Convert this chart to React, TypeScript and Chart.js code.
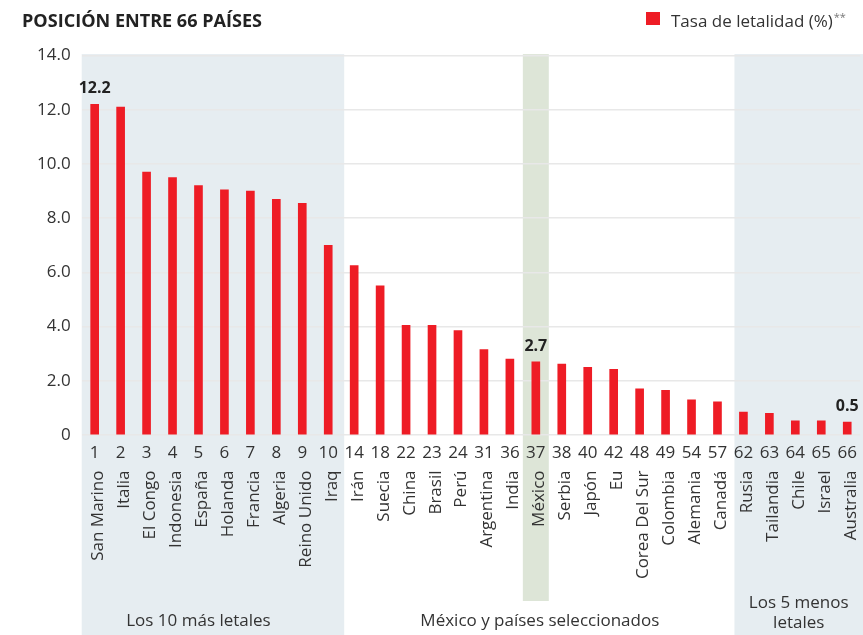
import React, { useEffect, useRef } from "react";
import { Chart, registerables } from "chart.js";

Chart.register(...registerables);

const title = "POSICIÓN ENTRE 66 PAÍSES";
const seriesName = "Tasa de letalidad (%)";
const seriesNote = "**";

const ranks = ["1", "2", "3", "4", "5", "6", "7", "8", "9", "10", "14", "18", "22", "23", "24", "31", "36", "37", "38", "40", "42", "48", "49", "54", "57", "62", "63", "64", "65", "66"];
const countries = ["San Marino", "Italia", "El Congo", "Indonesia", "España", "Holanda", "Francia", "Algeria", "Reino Unido", "Iraq", "Irán", "Suecia", "China", "Brasil", "Perú", "Argentina", "India", "México", "Serbia", "Japón", "Eu", "Corea Del Sur", "Colombia", "Alemania", "Canadá", "Rusia", "Tailandia", "Chile", "Israel", "Australia"];
const rates = [12.2, 12.1, 9.7, 9.5, 9.2, 9.05, 9.0, 8.7, 8.55, 7.0, 6.25, 5.5, 4.05, 4.05, 3.85, 3.15, 2.8, 2.7, 2.62, 2.5, 2.42, 1.7, 1.65, 1.3, 1.22, 0.85, 0.8, 0.52, 0.52, 0.48];
const labeledRanks = ["1", "37", "66"];

const yMin = 0;
const yMax = 14;
const yStep = 2;

const groupTexts = [["Los 10 más letales"], ["México y países seleccionados"], ["Los 5 menos", "letales"]];
const groupFirstRank = ["1", "37", "62"];
const groupLastRank = ["10", "37", "66"];

const RED = "#ee1c25";
const TEXT = "#333333";
const FONT = "'Open Sans', 'Noto Sans', sans-serif";

export default function App() {
  const ref = useRef<HTMLCanvasElement | null>(null);

  useEffect(() => {
    document.body.style.margin = "0";
    const canvas = ref.current;
    if (!canvas) return;

    const overlay = {
      id: "overlay",
      beforeDraw(chart: any) {
        const { ctx, chartArea } = chart;
        const x = chart.scales.x;
        const y = chart.scales.y;
        const W = chart.width;
        const H = chart.height;
        const step = x.getPixelForValue(1) - x.getPixelForValue(0);
        const top = y.getPixelForValue(yMax) - 1.5;
        ctx.save();
        const g1Last = ranks.indexOf(groupLastRank[0]);
        ctx.fillStyle = "#e6edf1";
        ctx.fillRect(chartArea.left, top, x.getPixelForValue(g1Last) + step / 2 + 3 - chartArea.left, H - top);
        const mx = ranks.indexOf(groupFirstRank[1]);
        ctx.fillStyle = "#dde5d7";
        ctx.fillRect(x.getPixelForValue(mx) - step / 2, top, step, 601 - top);
        const g3First = ranks.indexOf(groupFirstRank[2]);
        const l3 = x.getPixelForValue(g3First) - step / 2 + 4;
        ctx.fillStyle = "#e6edf1";
        ctx.fillRect(l3, top, W - l3, H - top);
        ctx.restore();
      },
      afterDraw(chart: any) {
        const { ctx } = chart;
        const x = chart.scales.x;
        const y = chart.scales.y;
        const W = chart.width;
        ctx.save();
        ctx.fillStyle = "#222";
        ctx.font = `bold 18.5px ${FONT}`;
        ctx.textAlign = "left";
        ctx.textBaseline = "alphabetic";
        ctx.fillText(title, 22, 27, 240);
        ctx.fillStyle = RED;
        ctx.fillRect(646, 12, 14, 13);
        ctx.fillStyle = TEXT;
        ctx.font = `17px ${FONT}`;
        ctx.fillText(seriesName, 671, 27);
        const tw = ctx.measureText(seriesName).width;
        ctx.fillStyle = "#777";
        ctx.font = `11px ${FONT}`;
        ctx.fillText(seriesNote, 671 + tw + 1, 21);

        ctx.fillStyle = TEXT;
        ranks.forEach((r, i) => {
          const cx = x.getPixelForValue(i);
          ctx.font = `17px ${FONT}`;
          ctx.textAlign = "center";
          ctx.textBaseline = "alphabetic";
          ctx.fillText(r, cx, 458);
          ctx.save();
          ctx.translate(cx + 8.5, 470.5);
          ctx.rotate(-Math.PI / 2);
          ctx.textAlign = "right";
          ctx.textBaseline = "alphabetic";
          ctx.fillText(countries[i], 0, 0);
          ctx.restore();
        });

        ctx.font = `bold 16px ${FONT}`;
        ctx.fillStyle = "#222";
        ctx.textAlign = "center";
        labeledRanks.forEach((r) => {
          const i = ranks.indexOf(r);
          ctx.fillText(rates[i].toFixed(1), x.getPixelForValue(i), y.getPixelForValue(rates[i]) - 11);
        });

        ctx.font = `17px ${FONT}`;
        ctx.fillStyle = TEXT;
        const c1 = (x.getPixelForValue(ranks.indexOf(groupFirstRank[0])) + x.getPixelForValue(ranks.indexOf(groupLastRank[0]) - 1)) / 2;
        ctx.fillText(groupTexts[0][0], c1, 626);
        const c2 = x.getPixelForValue(ranks.indexOf(groupFirstRank[1])) + 4;
        ctx.fillText(groupTexts[1][0], c2, 626);
        const step = x.getPixelForValue(1) - x.getPixelForValue(0);
        const l3 = x.getPixelForValue(ranks.indexOf(groupFirstRank[2])) - step / 2 + 4;
        const c3 = (l3 + W) / 2;
        ctx.fillText(groupTexts[2][0], c3, 608);
        ctx.fillText(groupTexts[2][1], c3, 628);
        ctx.restore();
      },
    };

    const chart = new Chart(canvas, {
      type: "bar",
      data: {
        labels: ranks,
        datasets: [
          {
            label: seriesName,
            data: rates,
            backgroundColor: RED,
            barThickness: 8,
          },
        ],
      },
      options: {
        responsive: false,
        animation: false,
        devicePixelRatio: 1,
        layout: { padding: { left: 0, right: 2.8, top: 55.6, bottom: 200 } },
        plugins: {
          legend: { display: false },
          tooltip: { enabled: false },
        },
        scales: {
          x: { display: false, offset: true },
          y: {
            min: yMin,
            max: yMax,
            ticks: {
              stepSize: yStep,
              padding: 11,
              color: TEXT,
              font: { family: FONT, size: 17 },
              callback: (v: any) => (Number(v) === 0 ? "0" : Number(v).toFixed(1)),
            },
            grid: { color: "#e8e8e8", lineWidth: 1.5, drawTicks: false },
            border: { display: false },
            afterFit: (s: any) => {
              s.width = 81.7;
            },
          },
        },
      },
      plugins: [overlay],
    });
    return () => chart.destroy();
  }, []);

  return (
    <div style={{ width: 863, height: 635, background: "#fff" }}>
      <canvas ref={ref} width={863} height={635} style={{ width: 863, height: 635, display: "block" }} />
    </div>
  );
}
